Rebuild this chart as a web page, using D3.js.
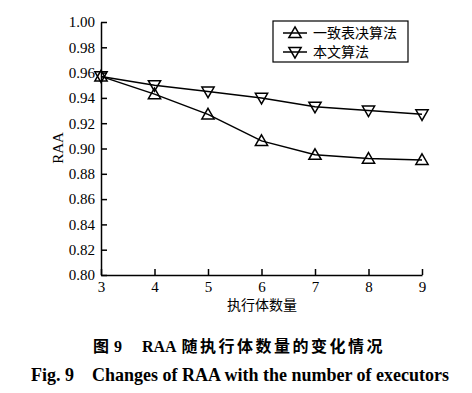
<!DOCTYPE html>
<html><head><meta charset="utf-8">
<script src="https://cdn.jsdelivr.net/npm/d3@7"></script>
<style>body{margin:0;background:#fff}</style>
</head><body>
<svg id="c" width="472" height="393"></svg>
<script>
const xValues = [3, 4, 5, 6, 7, 8, 9];
const seriesNames = ["一致表决算法", "本文算法"];
const voteValues = [0.957, 0.943, 0.927, 0.906, 0.895, 0.892, 0.891];
const oursValues = [0.957, 0.950, 0.945, 0.940, 0.933, 0.930, 0.927];
const yTicks = [0.80, 0.82, 0.84, 0.86, 0.88, 0.90, 0.92, 0.94, 0.96, 0.98, 1.00];

const svg = d3.select("#c");
const serif = "'Liberation Serif', 'Times New Roman', serif";
const cjk = "'Noto Sans CJK SC', sans-serif";
const L = 101, R = 422, T = 22, B = 275;
const x = d3.scaleLinear().domain([3, 9]).range([L, R]);
const y = d3.scaleLinear().domain([0.8, 1.0]).range([B, T]);

const yAx = svg.append("g").attr("transform", `translate(${L},0)`)
  .call(d3.axisLeft(y).tickValues(yTicks).tickSizeInner(-6).tickSizeOuter(0).tickPadding(6).tickFormat(d3.format(".2f")));
const xAx = svg.append("g").attr("transform", `translate(0,${B})`)
  .call(d3.axisBottom(x).tickValues(xValues).tickSizeInner(-6).tickSizeOuter(0).tickPadding(6).tickFormat(d3.format("d")));
[yAx, xAx].forEach(g => {
  g.attr("font-family", null).attr("font-size", null);
  g.selectAll("path,line").attr("stroke", "#000").attr("stroke-width", 1.5);
  g.selectAll("text").style("font-family", serif).style("font-size", "15px").attr("fill", "#000");
});

const line = d3.line().x((d, i) => x(xValues[i])).y(d => y(d));
const up = d3.symbol().type(d3.symbolTriangle).size(65);
function tri(sel) {
  sel.attr("d", up()).attr("fill", "none").attr("stroke", "#000").attr("stroke-width", 1.5);
  return sel;
}
[[voteValues, false], [oursValues, true]].forEach(([vals, down]) => {
  svg.append("path").datum(vals).attr("d", line).attr("fill", "none").attr("stroke", "#000").attr("stroke-width", 1.5);
  svg.selectAll(null).data(vals).enter().append("path")
    .attr("transform", (d, i) => `translate(${x(xValues[i])},${y(d) + (down ? -1 : 1)}) ${down ? "rotate(180)" : ""}`)
    .call(tri);
});

// legend
svg.append("rect").attr("x", 273).attr("y", 21).attr("width", 135).attr("height", 41)
  .attr("fill", "#fff").attr("stroke", "#000").attr("stroke-width", 1.2);
seriesNames.forEach((n, i) => {
  const cy = 33 + i * 19;
  svg.append("line").attr("x1", 283).attr("x2", 307).attr("y1", cy).attr("y2", cy).attr("stroke", "#000").attr("stroke-width", 1.5);
  svg.append("path").attr("transform", `translate(295,${cy + (i ? -1 : 1)}) ${i ? "rotate(180)" : ""}`).call(tri);
  svg.append("text").attr("x", 313).attr("y", cy + 5).text(n)
    .style("font-family", cjk).style("font-size", "14px").attr("fill", "#000");
});

svg.append("text").attr("transform", "translate(63,148) rotate(-90)").attr("text-anchor", "middle")
  .style("font-family", serif).style("font-size", "15px").text("RAA");
svg.append("text").attr("x", 262).attr("y", 310).attr("text-anchor", "middle")
  .style("font-family", cjk).style("font-size", "14px").text("执行体数量");

const cap1 = svg.append("text").attr("x", 239).attr("y", 352).attr("text-anchor", "middle")
  .style("font-size", "16px").style("font-weight", "bold");
cap1.append("tspan").style("font-family", cjk).text("图");
cap1.append("tspan").style("font-family", serif).attr("dx", 5).text("9");
cap1.append("tspan").style("font-family", serif).attr("dx", 20).text("RAA");
cap1.append("tspan").style("font-family", cjk).attr("dx", 5).style("letter-spacing", "2.5px").text("随执行体数量的变化情况");
svg.append("text").attr("x", 240).attr("y", 381).attr("text-anchor", "middle")
  .style("font-family", serif).style("font-size", "18px").style("font-weight", "bold")
  .style("white-space", "pre").text("Fig. 9    Changes of RAA with the number of executors");
</script>
</body></html>
